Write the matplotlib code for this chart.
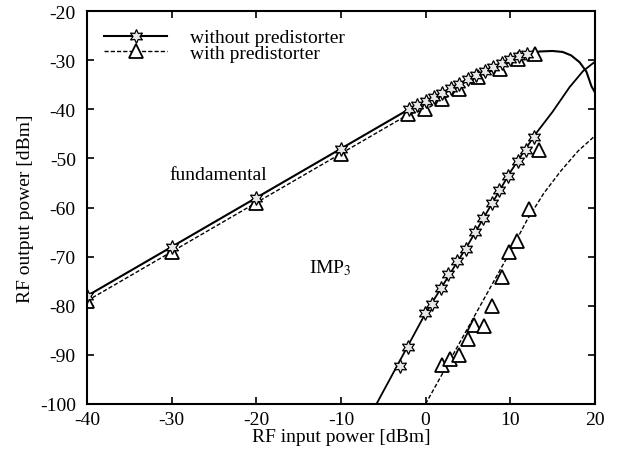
import numpy as np
import matplotlib
matplotlib.use("Agg")
import matplotlib.pyplot as plt

plt.rcParams['font.family'] = ['Liberation Serif', 'DejaVu Serif']
plt.rcParams['mathtext.fontset'] = 'stix'
plt.rcParams['axes.unicode_minus'] = False

# fundamental, without predistorter (solid line + star markers)
fund_wo_x = [-40, -30, -20, -10, -2, 0, 2, 4, 6, 8, 10, 12, 13.5, 15, 16.2, 17.2, 18.2, 19, 19.6, 20]
fund_wo_y = [-78, -68, -58, -48, -40, -38.3, -36.6, -34.8, -33, -31.3, -29.8, -28.7, -28.2, -28.1, -28.3, -29, -30.4, -32.3, -35.3, -36.5]
fund_wo_mx = [-40, -30, -20, -10, -2, -1, 0, 1, 2, 3, 4, 5, 6, 7, 8, 9, 10, 11, 12]
fund_wo_my = [-78, -68, -58, -48, -40, -39.1, -38.3, -37.4, -36.6, -35.7, -34.8, -33.9, -33, -32.1, -31.3, -30.5, -29.8, -29.2, -28.7]

# fundamental, with predistorter (dashed line + triangles)
fund_w_x = [-40, -30, -20, -10, -2, 0, 2, 4, 6, 8, 10, 12, 13]
fund_w_y = [-79, -69, -59, -49, -41, -40, -38, -36, -33.7, -32, -30.4, -29.2, -28.7]
fund_w_mx = [-40, -30, -20, -10, -2.1, -0.1, 2.0, 4.0, 6.2, 8.8, 10.9, 12.9]
fund_w_my = [-79, -69, -59, -49, -41.0, -40.0, -37.9, -35.9, -33.4, -31.8, -29.8, -28.75]

# IMP3, without predistorter
imp_wo_x = [-5.8, 0, 5, 10, 13, 15, 17, 18.6, 20]
imp_wo_y = [-100, -81.5, -67.6, -52.8, -45, -40.5, -35.5, -32.2, -30.3]
imp_wo_mx = [-3.0, -2.1, -0.1, 0.75, 1.8, 2.6, 3.7, 4.8, 5.8, 6.8, 7.8, 8.7, 9.7, 10.9, 11.9, 12.8]
imp_wo_my = [-92.3, -88.4, -81.5, -79.6, -76.4, -73.5, -70.9, -68.4, -65.0, -62.1, -59.1, -56.4, -53.6, -50.5, -48.3, -45.6]

# IMP3, with predistorter
imp_w_x = [0, 5, 10, 12, 14, 16, 18, 20]
imp_w_y = [-100, -84.5, -69, -62.5, -57, -52.5, -48.5, -45.4]
imp_w_mx = [1.9, 2.9, 4.0, 5.0, 5.7, 6.9, 7.9, 9.0, 9.8, 10.8, 12.2, 13.4]
imp_w_my = [-92.1, -90.8, -90.0, -86.8, -83.9, -84.1, -80.0, -74.1, -69.1, -66.8, -60.3, -48.3]

fig = plt.figure(figsize=(6.19, 4.52), dpi=100)
ax = fig.add_axes([0.1405, 0.104, 0.8205, 0.869])

star = dict(marker=(6, 1, 0), markersize=10, markerfacecolor='#e8e8e8',
            markeredgecolor='black', markeredgewidth=0.9, linestyle='none')
tri = dict(marker='^', markersize=10, markerfacecolor='white',
           markeredgecolor='black', markeredgewidth=1.3, linestyle='none')

ax.plot(fund_wo_x, fund_wo_y, color='black', lw=1.5)
ax.plot(fund_w_x, fund_w_y, color='black', lw=1.0, ls=(0, (3, 1.5)))
ax.plot(imp_wo_x, imp_wo_y, color='black', lw=1.3)
ax.plot(imp_w_x, imp_w_y, color='black', lw=1.0, ls=(0, (3, 1.5)))

ax.plot(fund_w_mx, fund_w_my, **tri)
ax.plot(imp_w_mx, imp_w_my, **tri)
ax.plot(fund_wo_mx, fund_wo_my, **star)
ax.plot(imp_wo_mx, imp_wo_my, **star)

# legend handles
h1, = ax.plot([], [], color='black', lw=1.5, **star)
h1.set_linestyle('-')
h2, = ax.plot([], [], color='black', lw=1.0, **tri)
h2.set_linestyle((0, (3, 1.5)))
ax.legend([h1, h2], ['without predistorter', 'with predistorter'],
          loc='upper left', bbox_to_anchor=(0.0, 1.0), frameon=False,
          fontsize=14, handlelength=3.2, labelspacing=-0.1, handletextpad=1.2)

ax.text(-30.3, -53.3, 'fundamental', fontsize=14, va='center')
ax.text(-13.8, -72.2, r'IMP$_3$', fontsize=14, va='center')

ax.set_xlim(-40, 20)
ax.set_ylim(-100, -20)
ax.set_xticks(np.arange(-40, 21, 10))
ax.set_yticks(np.arange(-100, -19, 10))
ax.tick_params(direction='in', top=True, right=True, labelsize=14, width=1.2, length=5)
ax.tick_params(axis='y', pad=8)
ax.tick_params(axis='x', pad=5)
for s in ax.spines.values():
    s.set_linewidth(1.5)

ax.set_xlabel('RF input power [dBm]', fontsize=14, labelpad=0)
ax.set_ylabel('RF output power [dBm]', fontsize=14, labelpad=4)

fig.savefig('out.png', dpi=100)
